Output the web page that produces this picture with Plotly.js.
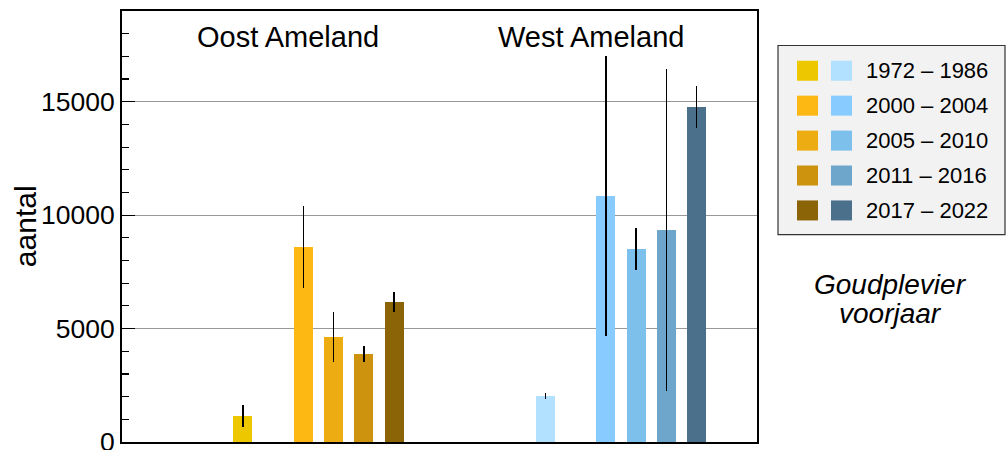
<!DOCTYPE html>
<html>
<head>
<meta charset="utf-8">
<script src="https://cdn.plot.ly/plotly-3.0.1.min.js"></script>
<style>html,body{margin:0;padding:0;background:#fff;}#chart{width:1006px;height:450px;}</style>
</head>
<body>
<div id="chart"></div>
<script>
// ---- data ----
const periods = ["1972 – 1986", "2000 – 2004", "2005 – 2010", "2011 – 2016", "2017 – 2022"];
const groups = ["Oost Ameland", "West Ameland"];
const oostValues = [1130, 8590, 4620, 3870, 6160];
const oostErrors = [490, 1800, 1090, 360, 450];
const westValues = [2020, 10840, 8500, 9340, 14760];
const westErrors = [120, 6180, 930, 7090, 930];
const oostColors = ["#EDC800", "#FDB813", "#EDAC12", "#CD930E", "#8C6408"];
const westColors = ["#B1E1FF", "#88CCFF", "#7EC0EC", "#6DA5CB", "#4B708C"];
const yTickVals = [0, 5000, 10000, 15000];
const yTitle = "aantal";
const speciesLines = ["Goudplevier", "voorjaar"];

// slot layout: each group spans 10 slots; first period sits alone, then a one-slot gap
function slot(g, i) { return g * 10 + (i === 0 ? 4 : 5 + i); }

const font = "Liberation Sans, Arial, Helvetica, sans-serif";
const seriesVals = [oostValues, westValues];
const seriesErr = [oostErrors, westErrors];
const seriesCol = [oostColors, westColors];

const traces = groups.map((name, g) => ({
  type: "bar",
  name: name,
  x: periods.map((p, i) => slot(g, i)),
  y: seriesVals[g],
  width: 0.63,
  marker: { color: seriesCol[g], line: { width: 0 } },
  error_y: { type: "data", array: seriesErr[g], visible: true, color: "#000", thickness: 1.5, width: 0 },
  hoverinfo: "y",
  showlegend: false
}));

const annotations = groups.map((name, g) => ({
  xref: "x", yref: "paper",
  x: g * 10 + 5.5, y: (441.7 - 37) / 430.7,
  text: name, showarrow: false,
  font: { family: font, size: 29, color: "#000" },
  xanchor: "center", yanchor: "middle"
}));

// y-axis title placed as a rotated annotation
annotations.push({
  xref: "paper", yref: "paper",
  x: (25 - 122) / 635, y: (441.7 - 226) / 430.7,
  text: yTitle, textangle: -90, showarrow: false,
  xanchor: "center", yanchor: "middle",
  font: { family: font, size: 30, color: "#000" }
});

// custom two-column legend
const shapes = [{
  type: "rect", xref: "paper", yref: "paper",
  x0: (778 - 122) / 635, x1: (1005 - 122) / 635,
  y0: (441.7 - 234.5) / 430.7, y1: (441.7 - 45.5) / 430.7,
  fillcolor: "#F2F2F2", line: { color: "#333", width: 1.2 }, layer: "below"
}];
periods.forEach((p, i) => {
  const cy = 70.7 + i * 34.9;
  [oostColors, westColors].forEach((cols, c) => {
    const x0 = c === 0 ? 797 : 831;
    shapes.push({
      type: "rect", xref: "paper", yref: "paper",
      x0: (x0 - 122) / 635, x1: (x0 + 21 - 122) / 635,
      y0: (441.7 - (cy + 10)) / 430.7, y1: (441.7 - (cy - 10)) / 430.7,
      fillcolor: cols[i], line: { width: 0 }
    });
  });
  annotations.push({
    xref: "paper", yref: "paper",
    x: (864 - 122) / 635, y: (441.7 - cy) / 430.7,
    text: p, showarrow: false, xanchor: "left", yanchor: "middle",
    font: { family: font, size: 22, color: "#000" }
  });
});
speciesLines.forEach((line, k) => {
  annotations.push({
    xref: "paper", yref: "paper",
    x: (890 - 122) / 635, y: (441.7 - (284 + k * 29)) / 430.7,
    text: "<i>" + line + "</i>", showarrow: false,
    xanchor: "center", yanchor: "middle",
    font: { family: font, size: 28, color: "#000" }
  });
});

const layout = {
  width: 1006, height: 450,
  margin: { l: 122, r: 249, t: 11, b: 8, pad: 0 },
  paper_bgcolor: "#fff", plot_bgcolor: "#fff",
  showlegend: false,
  xaxis: {
    range: [0, 21], showticklabels: false, ticks: "", showgrid: false, zeroline: false,
    showline: true, linecolor: "#000", linewidth: 2, mirror: true, fixedrange: true
  },
  yaxis: {
    range: [0, 19000], tickvals: yTickVals, ticktext: yTickVals.map(String),
    ticks: "inside", ticklen: 13, tickwidth: 1.2, tickcolor: "#000",
    minor: { dtick: 1000, ticks: "inside", ticklen: 7, tickwidth: 1.2, tickcolor: "#000", showgrid: false },
    showgrid: true, gridcolor: "#999", gridwidth: 1, zeroline: false,
    showline: true, linecolor: "#000", linewidth: 2, mirror: true,
    ticklabeloverflow: "allow",
    tickfont: { family: font, size: 26.5, color: "#000" },
    fixedrange: true
  },
  bargap: 0,
  annotations: annotations,
  shapes: shapes
};

Plotly.newPlot("chart", traces, layout, { displayModeBar: false, staticPlot: true });
</script>
</body>
</html>
